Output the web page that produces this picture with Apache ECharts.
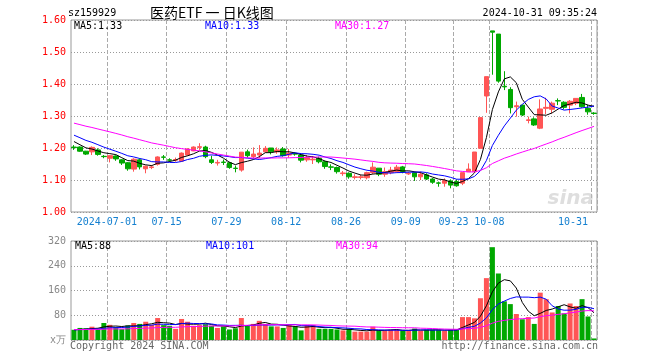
<!DOCTYPE html>
<html><head><meta charset="utf-8">
<script src="https://cdn.jsdelivr.net/npm/echarts@6/dist/echarts.min.js"></script>
<style>html,body{margin:0;padding:0;background:#fff}#c{width:660px;height:360px}</style>
</head><body><div id="c"></div>
<script>
// ---------- data ----------
const categories = [
'2024-06-21','2024-06-24','2024-06-25','2024-06-26','2024-06-27','2024-06-28',
'2024-07-01','2024-07-02','2024-07-03','2024-07-04','2024-07-05','2024-07-08','2024-07-09','2024-07-10','2024-07-11','2024-07-12',
'2024-07-15','2024-07-16','2024-07-17','2024-07-18','2024-07-19','2024-07-22','2024-07-23','2024-07-24','2024-07-25','2024-07-26',
'2024-07-29','2024-07-30','2024-07-31',
'2024-08-01','2024-08-02','2024-08-05','2024-08-06','2024-08-07','2024-08-08','2024-08-09','2024-08-12','2024-08-13','2024-08-14',
'2024-08-15','2024-08-16','2024-08-19','2024-08-20','2024-08-21','2024-08-22','2024-08-23','2024-08-26','2024-08-27','2024-08-28',
'2024-08-29','2024-08-30',
'2024-09-02','2024-09-03','2024-09-04','2024-09-05','2024-09-06','2024-09-09','2024-09-10','2024-09-11','2024-09-12','2024-09-13',
'2024-09-18','2024-09-19','2024-09-20','2024-09-23','2024-09-24','2024-09-25','2024-09-26','2024-09-27','2024-09-30',
'2024-10-08','2024-10-09','2024-10-10','2024-10-11','2024-10-14','2024-10-15','2024-10-16','2024-10-17','2024-10-18','2024-10-21',
'2024-10-22','2024-10-23','2024-10-24','2024-10-25','2024-10-28','2024-10-29','2024-10-30','2024-10-31'
];
const opens = [
1.203,1.203,1.190,1.188,1.194,1.174,1.168,1.175,1.163,1.154,
1.134,1.163,1.135,1.139,1.149,1.172,1.163,1.162,1.159,1.178,
1.191,1.202,1.203,1.163,1.153,1.156,1.154,1.137,1.131,1.188,
1.173,1.178,1.188,1.200,1.188,1.197,1.178,1.182,1.178,1.163,
1.163,1.168,1.157,1.141,1.139,1.120,1.121,1.108,1.108,1.107,
1.123,1.137,1.118,1.123,1.126,1.141,1.119,1.123,1.110,1.116,
1.103,1.091,1.090,1.097,1.095,1.090,1.126,1.126,1.199,1.3625,
1.566,1.556,1.393,1.383,1.329,1.334,1.286,1.291,1.262,1.324,
1.321,1.348,1.343,1.334,1.340,1.358,1.324,1.309];
const closes = [
1.201,1.190,1.181,1.202,1.180,1.173,1.176,1.166,1.153,1.135,
1.165,1.141,1.143,1.141,1.172,1.171,1.162,1.164,1.184,1.197,
1.203,1.204,1.173,1.155,1.155,1.155,1.139,1.136,1.187,1.176,
1.181,1.184,1.199,1.188,1.194,1.176,1.184,1.181,1.162,1.170,
1.165,1.157,1.142,1.140,1.126,1.122,1.110,1.110,1.110,1.123,
1.140,1.118,1.126,1.131,1.140,1.126,1.121,1.110,1.118,1.103,
1.093,1.090,1.098,1.084,1.082,1.123,1.134,1.1875,1.295,1.423,
1.562,1.409,1.391,1.326,1.332,1.303,1.288,1.272,1.322,1.327,
1.340,1.347,1.327,1.346,1.355,1.329,1.313,1.308];
const lows = [
1.194,1.188,1.178,1.178,1.176,1.168,1.155,1.160,1.147,1.129,
1.126,1.133,1.121,1.134,1.145,1.163,1.157,1.157,1.157,1.176,
1.190,1.194,1.168,1.150,1.145,1.147,1.135,1.124,1.126,1.170,
1.167,1.168,1.186,1.180,1.182,1.173,1.170,1.176,1.155,1.157,
1.150,1.152,1.135,1.131,1.120,1.113,1.104,1.102,1.102,1.102,
1.119,1.112,1.110,1.118,1.123,1.121,1.116,1.097,1.100,1.100,
1.088,1.079,1.079,1.074,1.079,1.084,1.126,1.126,1.199,1.310,
1.429,1.404,1.381,1.308,1.298,1.300,1.277,1.269,1.259,1.306,
1.308,1.334,1.321,1.308,1.334,1.326,1.304,1.304];
const highs = [
1.209,1.205,1.191,1.205,1.199,1.178,1.178,1.177,1.165,1.156,
1.168,1.168,1.145,1.147,1.174,1.178,1.168,1.170,1.186,1.199,
1.205,1.215,1.207,1.176,1.163,1.164,1.157,1.145,1.187,1.195,
1.202,1.209,1.206,1.200,1.202,1.203,1.197,1.186,1.183,1.178,
1.175,1.173,1.160,1.149,1.142,1.128,1.124,1.118,1.116,1.126,
1.155,1.137,1.139,1.141,1.147,1.144,1.126,1.126,1.126,1.121,
1.106,1.095,1.105,1.102,1.102,1.123,1.152,1.1875,1.295,1.423,
1.566,1.556,1.440,1.390,1.345,1.335,1.298,1.296,1.352,1.357,
1.345,1.355,1.346,1.350,1.355,1.369,1.335,1.312];
const volumes = [
33,39,38,43,37,55,49,42,35,47,
55,52,59,49,71,48,46,36,68,59,
46,48,51,46,39,44,34,38,71,47,
52,62,52,44,44,39,48,44,31,48,
48,36,36,36,34,31,36,27,27,27,
43,30,30,33,33,30,30,37,30,33,
33,33,30,33,33,74,74,70,135,200,
300,215,125,116,84,67,74,52,153,132,
89,110,86,118,110,132,76,5];
// estimated sessions before the visible window (only feed the moving averages at the left edge)
const priorCloses = [1.33,1.33,1.32,1.32,1.31,1.31,1.31,1.30,1.30,1.30,1.29,1.29,1.29,1.28,1.28,1.28,1.28,1.27,1.27,1.27,
1.27,1.265,1.26,1.255,1.25,1.24,1.23,1.22,1.21];
const priorVolumes = [36,32,30,38,34,31,35,40,33,29,34,37,32,30,36,33,35,31,34,38,32,30,33,36,34,31,35,33,32];
const tickDates = ['2024-07-01','2024-07-15','2024-07-29','2024-08-12','2024-08-26','2024-09-09','2024-09-23','2024-10-08','2024-10-31'];
const tickTexts = ['2024-07-01','07-15','07-29','08-12','08-26','09-09','09-23','10-08','10-31'];
const maPeriods = [5, 10, 30];
const maColors = ['#000000', '#0000ff', '#ff00ff'];

// ---------- build ----------
const UP = '#ff5555', DOWN = '#00a800';
function movingAvg(values, prior, n) {
  const all = prior.concat(values);
  return values.map((_, i) => {
    const end = prior.length + i;
    let s = 0;
    for (let k = end - n + 1; k <= end; k++) s += all[k];
    return s / n;
  });
}
const priceMA = maPeriods.map(n => movingAvg(closes, priorCloses, n));
const volMA = maPeriods.map(n => movingAvg(volumes, priorVolumes, n));
const isTick = (i) => tickDates.indexOf(categories[i]) >= 0;
const MONO = 'DejaVu Sans Mono';

const series = [{
  type: 'candlestick', xAxisIndex: 0, yAxisIndex: 0, barWidth: 5,
  data: categories.map((_, i) => [opens[i], closes[i], lows[i], highs[i]]),
  itemStyle: { color: UP, color0: DOWN, borderColor: UP, borderColor0: DOWN, borderWidth: 1 },
  z: 2
}];
maPeriods.forEach((n, k) => series.push({
  type: 'line', xAxisIndex: 0, yAxisIndex: 0, data: priceMA[k], symbol: 'none',
  lineStyle: { color: maColors[k], width: 1 }, z: 3
}));
series.push({
  type: 'bar', xAxisIndex: 1, yAxisIndex: 1, barWidth: 5,
  data: volumes.map((v, i) => ({ value: v, itemStyle: { color: closes[i] >= opens[i] ? UP : DOWN } })),
  z: 2
});
maPeriods.forEach((n, k) => series.push({
  type: 'line', xAxisIndex: 1, yAxisIndex: 1, data: volMA[k], symbol: 'none',
  lineStyle: { color: maColors[k], width: 1 }, z: 3
}));

const hSplit = { show: true, lineStyle: { color: '#999', type: [1, 2], width: 1 } };
const vSplit = { show: true, interval: (i) => isTick(i), lineStyle: { color: '#aaa', type: 'dashed', width: 1 } };

const last = categories.length - 1;
const pLabels = maPeriods.map((n, k) => 'MA' + n + ':' + priceMA[k][last].toFixed(2));
const vLabels = maPeriods.map((n, k) => 'MA' + n + ':' + Math.round(volMA[k][last]));
const labelX = [74, 205, 335];

function txt(x, y, text, color, font, align) {
  return { type: 'text', x: x, y: y, silent: true, z: 100,
    style: { text: text, fill: color, font: font, textAlign: align || 'left', textVerticalAlign: 'middle' } };
}
const graphics = [
  txt(68, 13, 'sz159929', '#000', '10px "' + MONO + '"'),
  txt(150, 13, '医药ETF 一 日K线图', '#000', '14px "Noto Sans CJK SC"'),
  txt(597, 13, '2024-10-31 09:35:24', '#000', '10px "' + MONO + '"', 'right'),
  txt(70, 346, 'Copyright 2024 SINA.COM', '#666', '10px "' + MONO + '"'),
  txt(598, 346, 'http://finance.sina.com.cn', '#666', '10px "' + MONO + '"', 'right'),
  txt(594, 199, 'sina', 'rgba(190,190,190,0.5)', 'italic bold 20px "DejaVu Sans"', 'right')
];
pLabels.forEach((t, k) => graphics.push(txt(labelX[k], 26, t, maColors[k], '10px "' + MONO + '"')));
vLabels.forEach((t, k) => graphics.push(txt(labelX[k] + 1, 246, t, maColors[k], '10px "' + MONO + '"')));

const option = {
  animation: false,
  backgroundColor: '#fff',
  grid: [
    { left: 71, top: 20, width: 526, height: 192, show: true, borderColor: '#999', borderWidth: 1, backgroundColor: 'transparent' },
    { left: 71, top: 241, width: 526, height: 99, show: true, borderColor: '#999', borderWidth: 1, backgroundColor: 'transparent' }
  ],
  xAxis: [
    { type: 'category', gridIndex: 0, data: categories, boundaryGap: true,
      axisLine: { show: false }, axisTick: { show: false, interval: (i) => isTick(i) },
      axisLabel: { interval: (i) => isTick(i), formatter: (v) => tickTexts[tickDates.indexOf(v)],
        color: '#1580d0', fontFamily: MONO, fontSize: 10, margin: 5, padding: [0, 6, 0, 0],
        alignMaxLabel: 'right', hideOverlap: false },
      splitLine: vSplit },
    { type: 'category', gridIndex: 1, data: categories, boundaryGap: true,
      axisLine: { show: false }, axisTick: { show: false, interval: (i) => isTick(i) },
      axisLabel: { show: false }, splitLine: vSplit }
  ],
  yAxis: [
    { type: 'value', gridIndex: 0, min: 1.0, max: 1.6, interval: 0.1, scale: false,
      axisLine: { show: false }, axisTick: { show: false },
      axisLabel: { color: '#ff0000', fontFamily: MONO, fontSize: 10, margin: 5, formatter: (v) => v.toFixed(2) },
      splitLine: hSplit },
    { type: 'value', gridIndex: 1, min: 0, max: 320, interval: 80,
      axisLine: { show: false }, axisTick: { show: false },
      axisLabel: { color: '#888', fontFamily: MONO, fontSize: 10, margin: 5, formatter: (v) => v === 0 ? 'x万' : String(v) },
      splitLine: hSplit }
  ],
  series: series,
  graphic: graphics
};
const chart = echarts.init(document.getElementById('c'), null, { renderer: 'canvas' });
chart.setOption(option);
</script></body></html>
